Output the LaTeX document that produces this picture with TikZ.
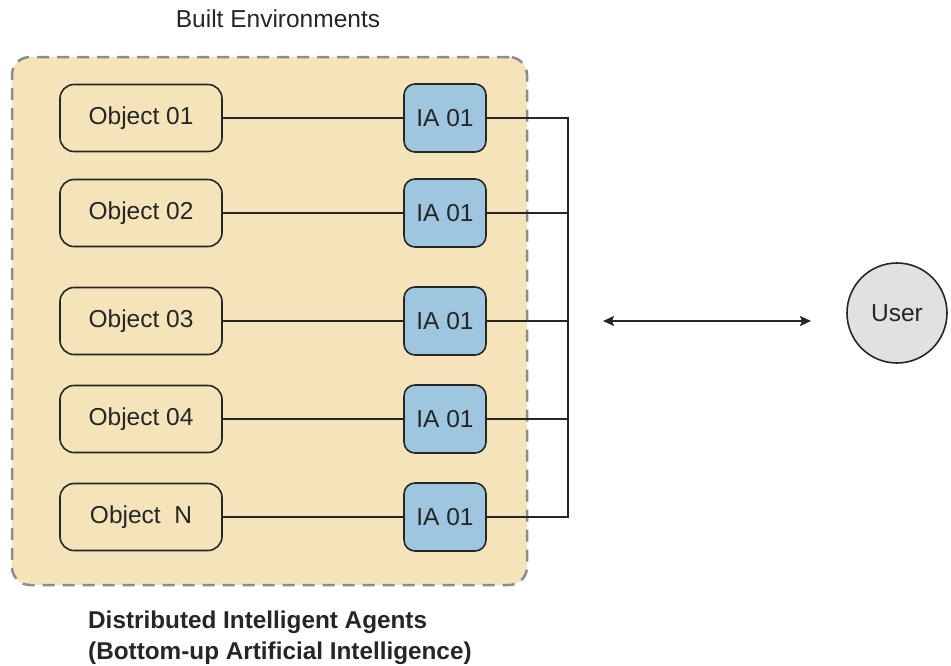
\documentclass[tikz,border=0pt]{standalone}
\usepackage{fontspec}
\setmainfont{Liberation Sans}
\usetikzlibrary{arrows.meta}
\definecolor{envfill}{HTML}{F5E4BA}
\definecolor{agentfill}{HTML}{9EC6DE}
\definecolor{userfill}{HTML}{E1E1E1}
\definecolor{edge}{HTML}{262626}
\definecolor{dashgrey}{HTML}{8C8C8C}
\begin{document}
\begin{tikzpicture}[x=1pt,y=-1pt,
  lbl/.style={font=\fontsize{24.5}{29}\selectfont, text=edge},
  caption/.style={font=\bfseries\fontsize{24.3}{29}\selectfont, text=edge, anchor=base west, inner sep=0pt},
  envbox/.style={draw=dashgrey, fill=envfill, line width=2.5pt,
    dash pattern=on 12pt off 8pt, rounded corners=18pt,
    minimum width=515pt, minimum height=528pt, inner sep=0pt},
  objbox/.style={lbl, draw=edge, line width=1.6pt, rounded corners=14pt,
    minimum width=162pt, minimum height=67pt, inner sep=0pt},
  agentbox/.style={lbl, draw=edge, fill=agentfill, line width=1.6pt,
    rounded corners=11pt, minimum width=82pt, minimum height=68pt, inner sep=0pt},
  userbox/.style={lbl, circle, draw=edge, fill=userfill, line width=1.6pt,
    minimum size=100pt, inner sep=0pt},
  wire/.style={draw=edge, line width=1.4pt},
  link/.style={wire, line width=1.8pt, {Stealth[length=11pt,width=10pt,inset=2pt]}-{Stealth[length=11pt,width=10pt,inset=2pt]}}]
\useasboundingbox (0,0) rectangle (951,665);

% built environment container
\node[envbox] (env) at (269.5,321) {};
\node[lbl, anchor=base, inner sep=0pt] (title) at (278,27) {Built Environments};
\node[caption] (caption1) at (88,628) {Distributed Intelligent Agents};
\node[caption] (caption2) at (88,659) {(Bottom-up Artificial Intelligence)};

% objects and their agents
\node[objbox] (o1) at (141,118) {Object 01};
\node[objbox] (o2) at (141,213) {Object 02};
\node[objbox] (o3) at (141,321) {Object 03};
\node[objbox] (o4) at (141,419) {Object 04};
\node[objbox] (o5) at (141,517) {Object\ \ N};

\node[agentbox] (a1) at (445,118) {IA 01};
\node[agentbox] (a2) at (445,213) {IA 01};
\node[agentbox] (a3) at (445,321) {IA 01};
\node[agentbox] (a4) at (445,419) {IA 01};
\node[agentbox] (a5) at (445,517) {IA 01};

\foreach \i in {1,...,5} {
  \draw[wire] (o\i) -- (a\i);
}

% shared bus on the right
\coordinate (bustop) at (568,118);
\coordinate (busbot) at (568,517);
\draw[wire] (a1.east) -- (bustop) -- (busbot) -- (a5.east);
\draw[wire] (a2.east) -- (a2.east -| bustop);
\draw[wire] (a3.east) -- (a3.east -| bustop);
\draw[wire] (a4.east) -- (a4.east -| bustop);

% user
\node[userbox] (user) at (897,313) {User};
\coordinate (linkl) at (603,321);
\coordinate (linkr) at (811,321);
\draw[link] (linkl) -- (linkr);
\end{tikzpicture}
\end{document}
